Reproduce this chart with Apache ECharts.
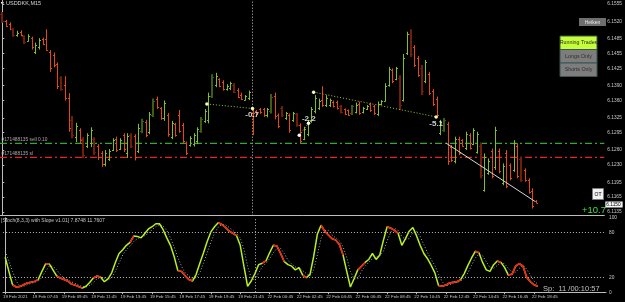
<!DOCTYPE html>
<html><head><meta charset="utf-8">
<script src="https://cdn.jsdelivr.net/npm/echarts@6/dist/echarts.min.js"></script>
<style>html,body{margin:0;padding:0;background:#000;overflow:hidden}#c{width:625px;height:302px}</style>
</head><body><div id="c"></div>
<script>
// ---- DATA ----
const timeLabels = ["19 Feb 2021","19 Feb 07:45","19 Feb 09:45","19 Feb 11:45","19 Feb 13:45","19 Feb 15:45","19 Feb 17:45","19 Feb 19:45","19 Feb 21:45","22 Feb 00:45","22 Feb 02:45","22 Feb 04:45","22 Feb 06:45","22 Feb 08:45","22 Feb 10:45","22 Feb 12:45","22 Feb 14:45","22 Feb 16:45","22 Feb 18:45"];
const priceTicks = [6.1555,6.1520,6.1485,6.1455,6.1425,6.1390,6.1360,6.1325,6.1295,6.1260,6.1230,6.1195,6.1165,6.1135];
const stochTicks = [0,20,80,100];
// bar colour type: d = down, D = dark down, u = up, U = dark up
const barTypes = ("DddDudDudu"+"udddddDddD"+"udDuuDdduu"+"ududuDduUd"+"uUddududdd"+"duuuUuuUud"+"duuDdduudd"+"dduUddDudu"+"Dduuuuuduu"+"ddDddUuduu"+"dduuuuduDu"+"uDddDudddu"+"Uddudduduu"+"Duudududdu"+"dDdddd").split("");
const opens = [6.1535,6.1521,6.1515,6.1504,6.1492,6.1499,6.1490,6.1481,6.1486,6.1458,
6.1468,6.1484,6.1485,6.1459,6.1452,6.1433,6.1405,6.1392,6.1366,6.1320,
6.1287,6.1300,6.1282,6.1268,6.1275,6.1282,6.1268,6.1254,6.1231,6.1242,
6.1260,6.1283,6.1262,6.1290,6.1255,6.1290,6.1288,6.1258,6.1298,6.1316,
6.1296,6.1330,6.1364,6.1344,6.1324,6.1331,6.1286,6.1312,6.1330,6.1311,
6.1274,6.1270,6.1272,6.1278,6.1299,6.1318,6.1320,6.1370,6.1392,6.1403,
6.1398,6.1383,6.1385,6.1392,6.1382,6.1372,6.1362,6.1365,6.1343,6.1339,
6.1343,6.1342,6.1330,6.1338,6.1370,6.1330,6.1345,6.1324,6.1331,6.1320,
6.1332,6.1310,6.1283,6.1292,6.1318,6.1338,6.1345,6.1362,6.1350,6.1350,
6.1358,6.1357,6.1348,6.1342,6.1340,6.1334,6.1337,6.1354,6.1336,6.1343,
6.1353,6.1348,6.1333,6.1353,6.1360,6.1392,6.1421,6.1404,6.1405,6.1362,
6.1456,6.1495,6.1468,6.1446,6.1425,6.1400,6.1414,6.1379,6.1364,6.1294,
6.1300,6.1313,6.1266,6.1238,6.1283,6.1280,6.1264,6.1290,6.1273,6.1257,
6.1268,6.1180,6.1214,6.1258,6.1225,6.1258,6.1193,6.1255,6.1229,6.1220,
6.1269,6.1242,6.1220,6.1199,6.1178,6.1158];
const highs = [6.1539,6.1523,6.1518,6.1506,6.1501,6.1502,6.1492,6.1494,6.1489,6.1477,
6.1486,6.1487,6.1504,6.1462,6.1457,6.1437,6.1409,6.1409,6.1375,6.1329,
6.1315,6.1304,6.1286,6.1294,6.1306,6.1286,6.1272,6.1258,6.1260,6.1262,
6.1284,6.1287,6.1284,6.1294,6.1294,6.1294,6.1292,6.1313,6.1323,6.1321,
6.1337,6.1364,6.1368,6.1347,6.1360,6.1335,6.1319,6.1315,6.1341,6.1315,
6.1277,6.1288,6.1294,6.1306,6.1327,6.1343,6.1376,6.1413,6.1416,6.1405,
6.1401,6.1393,6.1398,6.1395,6.1385,6.1376,6.1371,6.1380,6.1345,6.1341,
6.1345,6.1345,6.1345,6.1373,6.1376,6.1334,6.1349,6.1337,6.1334,6.1337,
6.1335,6.1314,6.1307,6.1321,6.1347,6.1371,6.1364,6.1389,6.1371,6.1364,
6.1360,6.1360,6.1351,6.1344,6.1342,6.1351,6.1356,6.1358,6.1347,6.1351,
6.1356,6.1351,6.1358,6.1361,6.1395,6.1428,6.1425,6.1428,6.1411,6.1454,
6.1499,6.1504,6.1472,6.1450,6.1432,6.1442,6.1418,6.1383,6.1368,6.1321,
6.1325,6.1317,6.1270,6.1287,6.1287,6.1282,6.1297,6.1294,6.1304,6.1297,
6.1274,6.1253,6.1243,6.1263,6.1307,6.1263,6.1233,6.1260,6.1233,6.1280,
6.1274,6.1246,6.1223,6.1203,6.1183,6.1159];
const lows = [6.1517,6.1509,6.1502,6.1489,6.1489,6.1490,6.1474,6.1479,6.1463,6.1454,
6.1463,6.1472,6.1461,6.1418,6.1427,6.1383,6.1380,6.1360,6.1297,6.1284,
6.1276,6.1274,6.1244,6.1264,6.1266,6.1250,6.1240,6.1226,6.1227,6.1238,
6.1258,6.1256,6.1260,6.1256,6.1244,6.1264,6.1239,6.1254,6.1294,6.1286,
6.1292,6.1327,6.1343,6.1321,6.1319,6.1287,6.1282,6.1287,6.1295,6.1274,
6.1250,6.1267,6.1267,6.1272,6.1295,6.1315,6.1314,6.1365,6.1387,6.1387,
6.1380,6.1380,6.1381,6.1375,6.1365,6.1361,6.1360,6.1361,6.1290,6.1331,
6.1333,6.1327,6.1326,6.1334,6.1322,6.1304,6.1327,6.1321,6.1295,6.1317,
6.1307,6.1274,6.1280,6.1288,6.1315,6.1334,6.1341,6.1347,6.1347,6.1347,
6.1346,6.1342,6.1334,6.1331,6.1329,6.1331,6.1334,6.1331,6.1334,6.1341,
6.1337,6.1331,6.1329,6.1351,6.1358,6.1388,6.1395,6.1401,6.1341,6.1358,
6.1452,6.1448,6.1428,6.1408,6.1371,6.1395,6.1371,6.1349,6.1327,6.1290,
6.1297,6.1230,6.1236,6.1233,6.1250,6.1267,6.1260,6.1261,6.1270,6.1253,
6.1203,6.1176,6.1210,6.1203,6.1220,6.1213,6.1189,6.1183,6.1199,6.1216,
6.1203,6.1196,6.1196,6.1172,6.1142,6.1153];
const closes = [6.1521,6.1511,6.1505,6.1492,6.1497,6.1493,6.1478,6.1490,6.1468,6.1472,
6.1482,6.1475,6.1463,6.1425,6.1432,6.1389,6.1384,6.1365,6.1305,6.1290,
6.1309,6.1280,6.1250,6.1290,6.1300,6.1256,6.1245,6.1231,6.1255,6.1258,
6.1280,6.1260,6.1280,6.1262,6.1288,6.1268,6.1245,6.1305,6.1318,6.1290,
6.1332,6.1360,6.1347,6.1325,6.1355,6.1292,6.1314,6.1290,6.1299,6.1278,
6.1254,6.1284,6.1290,6.1302,6.1323,6.1339,6.1370,6.1408,6.1410,6.1390,
6.1383,6.1390,6.1395,6.1378,6.1368,6.1363,6.1369,6.1377,6.1335,6.1333,
6.1336,6.1330,6.1342,6.1368,6.1328,6.1308,6.1330,6.1334,6.1300,6.1334,
6.1310,6.1279,6.1303,6.1317,6.1343,6.1366,6.1360,6.1350,6.1366,6.1361,
6.1349,6.1345,6.1337,6.1333,6.1331,6.1348,6.1352,6.1335,6.1345,6.1349,
6.1340,6.1334,6.1354,6.1359,6.1390,6.1423,6.1399,6.1425,6.1350,6.1445,
6.1494,6.1455,6.1432,6.1412,6.1380,6.1437,6.1375,6.1353,6.1330,6.1316,
6.1321,6.1238,6.1240,6.1282,6.1254,6.1269,6.1292,6.1265,6.1300,6.1292,
6.1210,6.1246,6.1238,6.1208,6.1300,6.1218,6.1228,6.1188,6.1203,6.1275,
6.1208,6.1200,6.1199,6.1176,6.1148,6.1154];
const stochMain = [47,28,10,7,7.5,10,12.5,13.5,14.5,17,
28,38,38,30,22,19,17,15,11,9.5,
7.5,5.5,8,13,19,22,20,14,18,26,
40,52,57,63,67,75.5,75,73,79,85,
88,92,92,84,73,63,48,29,28,22,
17,15,24,39,53,68,81,88,93.5,91,
87,82,79,76,63,35,8,15,25,37,
39,42,53,63,62,52,41,37,35,30,
33,23,19.5,24,48,78,90,82,77,72,
70,64,50,28,7,18,30,35,40,44,
52,44,50,70,88,86,83,79,63,72,
82,87,76,63,52,45,36,26,9,8,
9.5,12.5,13.5,14,17,25,36,46,55,53,
40,30,28,37,42,40,33,23,24,35,
38.5,35,20,14,10,8];
const stochSignal = [55,42,28,15,8,8,10,12,13.5,15,
20,28,35,35,30,24,19,17,14,12,
9.5,7.5,7,9,13,18,20,19,17,19,
28,39,50,57,62,68,72,74.5,76,79,
84,88,91,89,83,73,61,47,35,26,
22,18,19,26,39,53,67,79,87.5,91,
90.5,87,83,79,73,58,35,19,16,26,
34,39,45,53,59,59,52,43,38,34,
33,29,25,22,30,50,72,83,83,77,
73,69,61,47,28,18,18,28,35,40,
45,47,49,55,69,81,86,83,75,71,
72,80,82,75,64,53,44,36,24,14,
9,10,12,13,15,19,26,36,46,51,
49,41,33,32,36,40,38,32,27,27,
32,36,31,23,15,11];
// bar ranges where the stochastic main line is drawn red
const stochRedRanges = [[2,9],[11,12],[14,21],[24,26],[34,35],[47,48],[49,51],[58,63],[70,71],[73,74],[75,76],[81,82],[86,91],[91,92],[96,98],[104,107],[118,124],[128,129],[134,135],[137,138],[139,141],[142,145]];
// trade/signal lines [barIndex, price]
const sigLineA = [[55.6,6.1353],[68.0,6.1344]];
const sigLineB = [[84.6,6.1377],[117.9,6.1327]];
const sigLineC = [[80.7,6.1290],[83.2,6.1314]];
const trendLine = [[120.6,6.1274],[144.8,6.1156]];
const sigLabels = [[67.9,6.1332,"-0.7"],[83.3,6.1324,"-2.2"],[117.9,6.1313,"-5.1"]];
const orderOpen = 6.12735, orderSL = 6.12453, bidPrice = 6.1150, separatorBar = 68;
const orderLabels = ["#171488135 sell 0.10", "#171488135 sl"];

// ---- CHART ----
const C = {d:'#e4490f', D:'#701d09', u:'#86be20', U:'#3e5c12'};
const barData = opens.map((o,i)=>[i,o,closes[i],lows[i],highs[i]]);
const redData = stochMain.map(()=>null);
stochRedRanges.forEach(([a,b])=>{for(let i=a;i<=b;i++) redData[i]=[i,stochMain[i]];});
const FONT = 'Liberation Sans';
const XMIN=-0.623, XMAX=163.6;
const chart = echarts.init(document.getElementById('c'), null, {renderer:'canvas'});
const dotted = [1,2];
const dashDot = [7,3,2,3];
function hLine(price, color){
  return {type:'line', xAxisIndex:0, yAxisIndex:0, symbol:'none', z:2, silent:true,
    data:[[XMIN,price],[XMAX,price]], lineStyle:{color:color,type:dashDot,width:1.4,opacity:1},
    label:{show:false}};
}
function hLabel(price, text){
  return {type:'scatter', xAxisIndex:0, yAxisIndex:0, symbolSize:0, z:6, silent:true,
    data:[[XMIN,price]],
    label:{show:true,position:[1.5,-1],align:'left',verticalAlign:'bottom',formatter:text,color:'#d0d0d0',fontSize:4.8,fontFamily:FONT}};
}
chart.setOption({
  backgroundColor:'#000',
  animation:false,
  textStyle:{fontFamily:FONT},
  grid:[{left:0, top:0, width:606, height:215.7},{left:0, top:217.8, width:606, height:74.4}],
  xAxis:[
    {type:'value', gridIndex:0, min:XMIN, max:XMAX, axisLine:{show:true,onZero:false,lineStyle:{color:'#bdbdbd',width:1}}, axisTick:{show:false}, axisLabel:{show:false}, splitLine:{show:false}},
    {type:'value', gridIndex:1, min:XMIN, max:XMAX, axisLine:{show:true,onZero:false,lineStyle:{color:'#bdbdbd',width:1}},
      axisTick:{show:true, length:2, lineStyle:{color:'#bdbdbd'}, customValues: timeLabels.map((t,k)=>k*8)},
      axisLabel:{show:true, customValues: timeLabels.map((t,k)=>k*8-0.6), formatter:v=>timeLabels[Math.round(v/8)]||'', color:'#c8c8c8', fontSize:4.4, fontFamily:FONT, align:'left', margin:3},
      splitLine:{show:false}}
  ],
  yAxis:[
    {type:'value', gridIndex:0, position:'right', min:6.11274, max:6.15631, axisLine:{show:true,lineStyle:{color:'#bdbdbd'}},
      axisTick:{show:true,length:2,inside:false,lineStyle:{color:'#bdbdbd'},customValues:priceTicks},
      axisLabel:{show:true,customValues:priceTicks,formatter:v=>v.toFixed(4),color:'#c8c8c8',fontSize:4.8,fontFamily:FONT,margin:3},
      splitLine:{show:false}},
    {type:'value', gridIndex:1, position:'right', min:0, max:100, axisLine:{show:true,lineStyle:{color:'#bdbdbd'}},
      axisTick:{show:true,length:2,lineStyle:{color:'#bdbdbd'},customValues:stochTicks},
      axisLabel:{show:true,customValues:stochTicks,color:'#c8c8c8',fontSize:4.8,fontFamily:FONT,margin:3},
      splitLine:{show:false}}
  ],
  series:[
    {type:'custom', name:'bars', xAxisIndex:0, yAxisIndex:0, data:barData, encode:{x:0,y:[1,2,3,4]}, clip:true, z:3,
      renderItem:(params, api)=>{
        const i=api.value(0);
        const o=api.coord([i,api.value(1)]), c=api.coord([i,api.value(2)]), l=api.coord([i,api.value(3)]), h=api.coord([i,api.value(4)]);
        const t=barTypes[params.dataIndex]||'d';
        const col=C[t];
        const thick=(t==='D'||t==='U');
        const x=thick?Math.round(h[0]):Math.round(h[0])+0.5;
        return {type:'group',children:[
          {type:'line',shape:{x1:x,y1:h[1],x2:x,y2:l[1]},style:{stroke:col,lineWidth:thick?2:1}},
          {type:'line',shape:{x1:x-(thick?2:1.5),y1:Math.round(o[1])+0.5,x2:x,y2:Math.round(o[1])+0.5},style:{stroke:col,lineWidth:1}},
          {type:'line',shape:{x1:x,y1:Math.round(c[1])+0.5,x2:x+(thick?2:1.5),y2:Math.round(c[1])+0.5},style:{stroke:col,lineWidth:1}}
        ]};
      }
    },
    hLine(orderOpen,'#34a834'),
    hLine(orderSL,'#e02626'),
    hLabel(orderOpen, orderLabels[0]),
    hLabel(orderSL, orderLabels[1]),
    {type:'line', xAxisIndex:0, yAxisIndex:0, data:[], symbol:'none', z:2,
      markLine:{silent:true, symbol:['none','none'], animation:false, precision:5,
        lineStyle:{color:'rgba(0,0,0,0)',width:1},
        label:{show:true,position:'end',formatter:bidPrice.toFixed(4),color:'#000',backgroundColor:'#f4f4f4',fontSize:4.8,fontFamily:FONT,padding:[1,2,0,1],distance:1},
        data:[{yAxis:bidPrice}]}},
    {type:'line', xAxisIndex:0, yAxisIndex:0, data:[], symbol:'none', z:2,
      markLine:{silent:true, symbol:['none','none'], animation:false, precision:5,
        lineStyle:{color:'#c8c8c8',type:dotted,width:1}, label:{show:false}, data:[{xAxis:separatorBar}]}},
    {type:'line', xAxisIndex:0, yAxisIndex:0, data:sigLineA, lineStyle:{color:'#9acd32',width:1,type:dotted}, symbol:'circle', symbolSize:3.5,
      itemStyle:{color:'#e8ffb0'}, z:5},
    {type:'line', xAxisIndex:0, yAxisIndex:0, data:sigLineB, lineStyle:{color:'#9acd32',width:1,type:dotted}, symbol:'circle', symbolSize:3.5,
      itemStyle:{color:'#e8ffb0'}, z:5},
    {type:'line', xAxisIndex:0, yAxisIndex:0, data:sigLineC, lineStyle:{color:'#b0b0b0',width:1,type:dotted}, symbol:'circle', symbolSize:3.5,
      itemStyle:{color:'#ffffff'}, z:5},
    {type:'line', xAxisIndex:0, yAxisIndex:0, data:trendLine, lineStyle:{color:'#d8d8d8',width:1}, symbol:'circle', symbolSize:[3.5,0],
      itemStyle:{color:'#ffffff'}, z:5},
    {type:'scatter', xAxisIndex:0, yAxisIndex:0, data:sigLabels.map(s=>[s[0],s[1],s[2]]), symbolSize:0, z:6,
      label:{show:true,position:'inside',formatter:p=>p.value[2],color:'#ffffff',fontSize:8,fontWeight:'bold',fontFamily:FONT}},
    {type:'line', name:'main', xAxisIndex:1, yAxisIndex:1, data:stochMain.map((v,i)=>[i,v]), showSymbol:false, symbol:'none',
      lineStyle:{color:'#b8f21e',width:1.5}, z:4},
    {type:'line', name:'mainRed', xAxisIndex:1, yAxisIndex:1, data:redData, showSymbol:false, symbol:'none', connectNulls:false,
      lineStyle:{color:'#ff1a1a',width:1.5}, z:5},
    {type:'line', name:'signal', xAxisIndex:1, yAxisIndex:1, data:stochSignal.map((v,i)=>[i,v]), showSymbol:false, symbol:'none',
      lineStyle:{color:'#a8a8a8',width:1,type:dotted}, z:3,
      markLine:{silent:true,symbol:['none','none'],label:{show:false},precision:5,
        data:[{yAxis:80},{yAxis:20},{xAxis:separatorBar}],
        lineStyle:{color:'#b8b8b8',type:dotted,width:1}}}
  ],
  graphic:[
    {type:'rect',shape:{x:1,y:2,width:2.5,height:1.5},style:{fill:'#ffffff'}},
    {type:'text',x:6,y:0.5,style:{text:'USDDKK,M15',fill:'#d8d8d8',fontSize:5.5,fontFamily:FONT}},
    {type:'rect',shape:{x:579,y:18,width:27,height:8},style:{fill:'#6f6f6f'}},
    {type:'text',x:592.5,y:22.2,style:{text:'Heiken',fill:'#e8e8e8',fontSize:5,fontFamily:FONT,align:'center',verticalAlign:'middle'}},
    {type:'rect',shape:{x:560,y:36,width:37,height:13.5},style:{fill:'#c4ff3a',stroke:'#3b5555',lineWidth:1}},
    {type:'text',x:578.5,y:42.8,style:{text:'Running Trades',fill:'#2a2a2a',fontSize:5.3,fontFamily:FONT,align:'center',verticalAlign:'middle'}},
    {type:'rect',shape:{x:560,y:49.5,width:37,height:13.5},style:{fill:'#7d7d7d',stroke:'#3b5555',lineWidth:1}},
    {type:'text',x:578.5,y:56.3,style:{text:'Longs Only',fill:'#2e2e2e',fontSize:5.3,fontFamily:FONT,align:'center',verticalAlign:'middle'}},
    {type:'rect',shape:{x:560,y:63,width:37,height:13.5},style:{fill:'#7d7d7d',stroke:'#3b5555',lineWidth:1}},
    {type:'text',x:578.5,y:69.8,style:{text:'Shorts Only',fill:'#2e2e2e',fontSize:5.3,fontFamily:FONT,align:'center',verticalAlign:'middle'}},
    {type:'rect',shape:{x:592.5,y:188.5,width:11,height:11},style:{fill:'#f2f2f2',stroke:'#7a7a7a',lineWidth:1}},
    {type:'text',x:598,y:194.2,style:{text:'OT',fill:'#000',fontSize:5,fontFamily:FONT,align:'center',verticalAlign:'middle'}},
    {type:'text',x:582,y:210.5,style:{text:'+10.7',fill:'#3ee03e',fontSize:9.5,fontFamily:FONT,verticalAlign:'middle'}},
    {type:'text',x:1,y:218.5,style:{text:'[Stoch(8,3,3) with Slope v1.01] 7.8748 11.7607',fill:'#c8c8c8',fontSize:5,fontFamily:FONT}},
    {type:'text',x:543,y:289,style:{text:'Sp:  11 /00:10:57',fill:'#c0c0c0',fontSize:7.5,fontFamily:FONT,verticalAlign:'middle'}}
  ]
});
</script></body></html>
